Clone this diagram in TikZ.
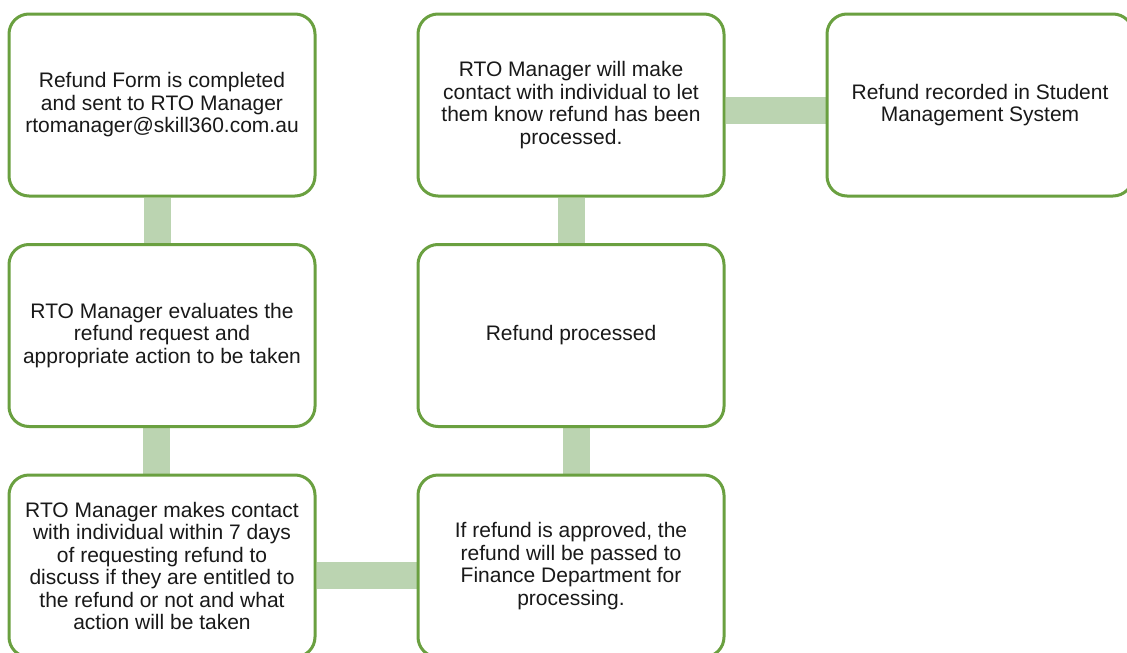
\documentclass[tikz,border=0pt]{standalone}
\usepackage{fontspec}
\setmainfont{Liberation Sans}
\usetikzlibrary{backgrounds}
\definecolor{boxline}{RGB}{106,160,64}
\definecolor{barfill}{RGB}{187,212,177}
\tikzset{
  stepbox/.style={draw=boxline, line width=3pt, fill=white, rounded corners=20pt,
    minimum width=306pt, minimum height=182pt, inner sep=0pt, align=center,
    text=black!90, font=\fontsize{21}{22.5}\selectfont},
  bar/.style={draw=barfill, line width=27pt}
}
\begin{document}
\begin{tikzpicture}[x=1pt,y=-1pt]
\useasboundingbox (0,0) rectangle (1127,653);
\clip (0,0) rectangle (1127,653);
\node[stepbox] (b1) at (162,105) {Refund Form is completed\\and sent to RTO Manager\\rtomanager@skill360.com.au};
\node[stepbox] (b2) at (162,335.5) {RTO Manager evaluates the\\refund request and\\appropriate action to be taken};
\node[stepbox] (b3) at (162,566) {RTO Manager makes contact\\with individual within 7 days\\of requesting refund to\\discuss if they are entitled to\\the refund or not and what\\action will be taken};
\node[stepbox] (b4) at (571,566) {If refund is approved, the\\refund will be passed to\\Finance Department for\\processing.};
\node[stepbox] (b5) at (571,335.5) {Refund processed};
\node[stepbox] (b6) at (571,105) {RTO Manager will make\\contact with individual to let\\them know refund has been\\processed.};
\node[stepbox] (b7) at (980,105) {Refund recorded in Student\\Management System};
\begin{scope}[on background layer]
\draw[bar] ([xshift=-5pt]b1.south) -- ([xshift=-5pt]b2.north);
\draw[bar] ([xshift=-6pt]b2.south) -- ([xshift=-6pt]b3.north);
\draw[bar] ([yshift=-9pt]b3.east) -- ([yshift=-9pt]b4.west);
\draw[bar] ([xshift=5pt]b4.north) -- ([xshift=5pt]b5.south);
\draw[bar] (b5.north) -- (b6.south);
\draw[bar] ([yshift=-5pt]b6.east) -- ([yshift=-5pt]b7.west);
\end{scope}
\end{tikzpicture}
\end{document}
